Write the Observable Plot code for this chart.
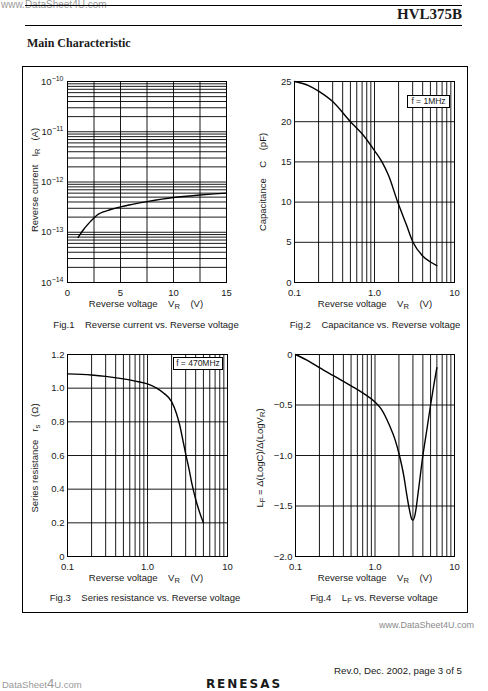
<!DOCTYPE html>
<html><head><meta charset="utf-8">
<script src="https://cdn.jsdelivr.net/npm/d3@7"></script>
<script src="https://cdn.jsdelivr.net/npm/@observablehq/plot@0.6"></script>
<style>
body{margin:0;background:#fff;}
#page{position:relative;width:488px;height:691px;overflow:hidden;font-family:"Liberation Sans",Arial,Helvetica,sans-serif;color:#1a1a1a;}
.t{position:absolute;white-space:nowrap;line-height:1;}
.c{transform:translate(-50%,-50%);}
.r{transform:translate(-50%,-50%) rotate(-90deg);}
.sub{font-size:0.8em;position:relative;top:0.3em;}
.hl{position:absolute;height:0;border-top:1px solid #000;}
.lbl{font-size:9.5px;}
.note{position:absolute;background:#fff;border:1px solid #000;font-size:8.5px;line-height:11px;text-align:center;box-sizing:border-box;}
</style></head><body><div id="page"></div>
<script>
// ---------------- data ----------------
// Fig.1 Reverse current vs. Reverse voltage
const fig1VR = [1, 1.5, 2, 2.5, 3, 4, 5, 6, 7.5, 10, 12.5, 15];
const fig1IR = [7.9e-14, 1.12e-13, 1.5e-13, 1.93e-13, 2.34e-13, 2.8e-13, 3.2e-13, 3.55e-13, 4.07e-13, 4.9e-13, 5.5e-13, 6.0e-13];
const fig1XTicks = [0, 5, 10, 15];
const fig1XTickLabels = ["0", "5", "10", "15"];
const fig1XGrid = [2.5, 5, 7.5, 10, 12.5];
const fig1YTicks = [1e-14, 1e-13, 1e-12, 1e-11, 1e-10];
const fig1YTickLabels = ["10|\u221214", "10|\u221213", "10|\u221212", "10|\u221211", "10|\u221210"];

// Fig.2 Capacitance vs. Reverse voltage
const fig2VR = [0.1, 0.15, 0.2, 0.3, 0.5, 0.7, 1.0, 1.24, 1.5, 1.95, 2.5, 3.03, 4, 5, 6];
const fig2C = [25, 24.5, 23.8, 22.5, 20, 18.5, 16.4, 15, 13.3, 10, 7.2, 5, 3.3, 2.55, 2.1];
const fig2YTicks = [0, 5, 10, 15, 20, 25];
const fig2YTickLabels = ["0", "5", "10", "15", "20", "25"];
const fig2YGrid = [5, 10, 15, 20];

// Fig.3 Series resistance vs. Reverse voltage
const fig3VR = [0.1, 0.2, 0.3, 0.5, 0.7, 1.0, 1.3, 1.6, 2.0, 2.3, 2.5, 2.8, 3.0, 3.3, 3.6, 4.0, 4.5, 5.0];
const fig3Rs = [1.085, 1.078, 1.07, 1.055, 1.042, 1.025, 1.0, 0.97, 0.92, 0.85, 0.79, 0.68, 0.61, 0.52, 0.43, 0.34, 0.26, 0.2];
const fig3YTicks = [0, 0.2, 0.4, 0.6, 0.8, 1.0, 1.2];
const fig3YTickLabels = ["0", "0.2", "0.4", "0.6", "0.8", "1.0", "1.2"];
const fig3YGrid = [0.2, 0.4, 0.6, 0.8, 1.0];

// Fig.4 LF vs. Reverse voltage
const fig4VR = [0.1, 0.15, 0.2, 0.3, 0.5, 0.7, 1.0, 1.2, 1.5, 1.8, 2.0, 2.3, 2.5, 2.7, 2.9, 3.0, 3.2, 3.5, 4.0, 4.5, 5.0, 5.5, 6.0];
const fig4LF = [0, -0.07, -0.13, -0.21, -0.31, -0.38, -0.47, -0.54, -0.69, -0.85, -0.98, -1.2, -1.38, -1.53, -1.63, -1.64, -1.58, -1.36, -1.0, -0.74, -0.5, -0.3, -0.13];
const fig4YTicks = [-2, -1.5, -1, -0.5, 0];
const fig4YTickLabels = ["\u22122.0", "\u22121.5", "\u22121.0", "\u22120.5", "0"];
const fig4YGrid = [-0.5, -1, -1.5];

// shared log voltage axis
const logXTicks = [0.1, 1, 10];
const logXTickLabels = ["0.1", "1.0", "10"];
const logXGrid = [0.2, 0.3, 0.4, 0.5, 0.6, 0.7, 0.8, 0.9, 1, 2, 3, 4, 5, 6, 7, 8, 9];

// ---------------- layout helpers ----------------
const page = document.getElementById("page");
function add(html, cls, x, y, style) {
  const d = document.createElement("div");
  d.className = "t " + cls;
  d.innerHTML = html;
  d.style.left = x + "px"; d.style.top = y + "px";
  if (style) d.setAttribute("style", d.getAttribute("style") + ";" + style);
  page.appendChild(d);
  return d;
}
function hline(x, y, w) {
  const d = document.createElement("div");
  d.className = "hl"; d.style.left = x + "px"; d.style.top = y + "px"; d.style.width = w + "px";
  page.appendChild(d);
}
function note(text, x, y, w, h) {
  const d = document.createElement("div");
  d.className = "note"; d.textContent = text;
  Object.assign(d.style, {left: x + "px", top: y + "px", width: w + "px", height: h + "px"});
  page.appendChild(d);
}
const fmt = (ticks, labels) => d => {
  const i = ticks.findIndex(t => t === d || Math.abs(t - d) <= Math.max(Math.abs(t), Math.abs(d)) * 1e-6);
  return i < 0 ? "" : labels[i];
};

const ML = 48, MR = 12, MT = 12, MB = 24;
function chart(frame, xOpt, yOpt, marks) {
  const svg = Plot.plot({
    width: frame.x1 - frame.x0 + ML + MR,
    height: frame.y1 - frame.y0 + MT + MB,
    marginLeft: ML, marginRight: MR, marginTop: MT, marginBottom: MB,
    style: {fontFamily: '"Liberation Sans", Arial, sans-serif', fontSize: "9.5px", color: "#1a1a1a", background: "transparent", overflow: "visible"},
    x: xOpt, y: yOpt,
    marks
  });
  svg.style.position = "absolute";
  svg.style.left = (frame.x0 - ML) + "px";
  svg.style.top = (frame.y0 - MT) + "px";
  page.appendChild(svg);
  return svg;
}
const gridStyle = {stroke: "#000", strokeOpacity: 1, strokeWidth: 0.9};
const curveStyle = {stroke: "#000", strokeWidth: 1.4, curve: "monotone-x"};
function logXAxis() {
  return Plot.axisX(logXTicks, {tickSize: 0, tickPadding: 6.5, tickFormat: fmt(logXTicks, logXTickLabels), label: null});
}
function yAxis(ticks, labels) {
  return Plot.axisY(ticks, {tickSize: 0, tickPadding: 3, tickFormat: fmt(ticks, labels), label: null});
}

// ---------------- header ----------------
add("www.DataSheet4U.com", "", 1, 0, "font-size:10px;color:#9a9a9a");
hline(25, 5, 437);
add("HVL375B", "", 0, 7, "font-family:'Liberation Serif','Times New Roman',serif;font-weight:bold;font-size:15px;left:auto;right:26px");
hline(25, 25, 437);
add("Main Characteristic", "", 27, 37, "font-family:'Liberation Serif','Times New Roman',serif;font-weight:bold;font-size:12px");
const box = document.createElement("div");
Object.assign(box.style, {position: "absolute", left: "22px", top: "66px", width: "444px", height: "545px", border: "1px solid #000"});
page.appendChild(box);

// ---------------- Fig.1 ----------------
const f1 = {x0: 67, x1: 226, y0: 81, y1: 282};
const fig1YGrid = [];
for (let e = -14; e < -10; e++) for (let k = 1; k <= 9; k++) fig1YGrid.push(k * Math.pow(10, e));
const s1 = chart(f1,
  {type: "linear", domain: [0, 15]},
  {type: "log", domain: [1e-14, 1e-10]},
  [
    Plot.gridX(fig1XGrid, gridStyle),
    Plot.gridY(fig1YGrid, gridStyle),
    Plot.frame({stroke: "#000", strokeWidth: 1}),
    Plot.axisX(fig1XTicks, {tickSize: 0, tickPadding: 6.5, tickFormat: fmt(fig1XTicks, fig1XTickLabels), label: null}),
    Plot.axisY(fig1YTicks, {tickSize: 0, tickPadding: 4, tickFormat: fmt(fig1YTicks, fig1YTickLabels), label: null}),
    Plot.line(fig1VR.map((v, i) => ({v, c: fig1IR[i]})), {x: "v", y: "c", ...curveStyle, curve: "catmull-rom"})
  ]);
d3.select(s1).selectAll("text").each(function () {
  const t = this.textContent;
  if (t.includes("|")) {
    const [b, e] = t.split("|");
    const sel = d3.select(this);
    sel.text(b);
    sel.append("tspan").attr("dy", "-0.5em").attr("font-size", "7px").text(e);
  }
});
add("Reverse voltage&nbsp;&nbsp;&nbsp; V<span class='sub'>R</span>&nbsp;&nbsp;&nbsp; (V)", "c lbl", 146, 304);
add("Fig.1&nbsp;&nbsp;&nbsp; Reverse current vs. Reverse voltage", "c lbl", 146, 325);
add("Reverse current&nbsp;&nbsp; I<span class='sub'>R</span>&nbsp;&nbsp; (A)", "r lbl", 35, 180);

// ---------------- Fig.2 ----------------
const f2 = {x0: 294, x1: 454, y0: 81, y1: 282};
chart(f2,
  {type: "log", domain: [0.1, 10]},
  {type: "linear", domain: [0, 25]},
  [
    Plot.gridX(logXGrid, gridStyle),
    Plot.gridY(fig2YGrid, gridStyle),
    Plot.frame({stroke: "#000", strokeWidth: 1}),
    logXAxis(),
    yAxis(fig2YTicks, fig2YTickLabels),
    Plot.line(fig2VR.map((v, i) => ({v, c: fig2C[i]})), {x: "v", y: "c", ...curveStyle})
  ]);
note("f = 1MHz", 407, 95, 43, 13);
add("Reverse voltage&nbsp;&nbsp;&nbsp; V<span class='sub'>R</span>&nbsp;&nbsp;&nbsp; (V)", "c lbl", 375, 304);
add("Fig.2&nbsp;&nbsp;&nbsp; Capacitance vs. Reverse voltage", "c lbl", 375, 325);
add("Capacitance&nbsp;&nbsp;&nbsp; C&nbsp;&nbsp;&nbsp; (pF)", "r lbl", 263, 182);

// ---------------- Fig.3 ----------------
const f3 = {x0: 67, x1: 227, y0: 354, y1: 556};
chart(f3,
  {type: "log", domain: [0.1, 10]},
  {type: "linear", domain: [0, 1.2]},
  [
    Plot.gridX(logXGrid, gridStyle),
    Plot.gridY(fig3YGrid, gridStyle),
    Plot.frame({stroke: "#000", strokeWidth: 1}),
    logXAxis(),
    yAxis(fig3YTicks, fig3YTickLabels),
    Plot.line(fig3VR.map((v, i) => ({v, r: fig3Rs[i]})), {x: "v", y: "r", ...curveStyle})
  ]);
note("f = 470MHz", 173, 357, 50, 13);
add("Reverse voltage&nbsp;&nbsp;&nbsp; V<span class='sub'>R</span>&nbsp;&nbsp;&nbsp; (V)", "c lbl", 146, 578);
add("Fig.3&nbsp;&nbsp;&nbsp; Series resistance vs. Reverse voltage", "c lbl", 145, 598);
add("Series resistance&nbsp;&nbsp; r<span class='sub'>s</span>&nbsp;&nbsp; (\u03A9)", "r lbl", 35, 458);

// ---------------- Fig.4 ----------------
const f4 = {x0: 295, x1: 454, y0: 354, y1: 556};
chart(f4,
  {type: "log", domain: [0.1, 10]},
  {type: "linear", domain: [-2, 0]},
  [
    Plot.gridX(logXGrid, gridStyle),
    Plot.gridY(fig4YGrid, gridStyle),
    Plot.frame({stroke: "#000", strokeWidth: 1}),
    logXAxis(),
    yAxis(fig4YTicks, fig4YTickLabels),
    Plot.line(fig4VR.map((v, i) => ({v, l: fig4LF[i]})), {x: "v", y: "l", ...curveStyle})
  ]);
add("Reverse voltage&nbsp;&nbsp;&nbsp; V<span class='sub'>R</span>&nbsp;&nbsp;&nbsp; (V)", "c lbl", 375, 578);
add("Fig.4&nbsp;&nbsp;&nbsp; L<span class='sub'>F</span> vs. Reverse voltage", "c lbl", 374, 598);
add("L<span class='sub'>F</span> = \u0394(LogC)/\u0394(LogV<span class='sub'>R</span>)", "r lbl", 260, 458);

// ---------------- footer ----------------
add("www.DataSheet4U.com", "", 379, 621, "font-size:9px;color:#8a8a8a");
add("Rev.0, Dec. 2002, page 3 of 5", "", 0, 666, "font-size:9.7px;left:auto;right:26px");
add("DataSheet<span style='font-size:13px'>4</span>U.com", "", 2, 677, "font-size:9.5px;color:#9a9a9a");
add("RENESAS", "c", 244, 684, "font-size:12px;font-weight:bold;letter-spacing:2px;font-family:'DejaVu Sans',sans-serif");
</script></body></html>
